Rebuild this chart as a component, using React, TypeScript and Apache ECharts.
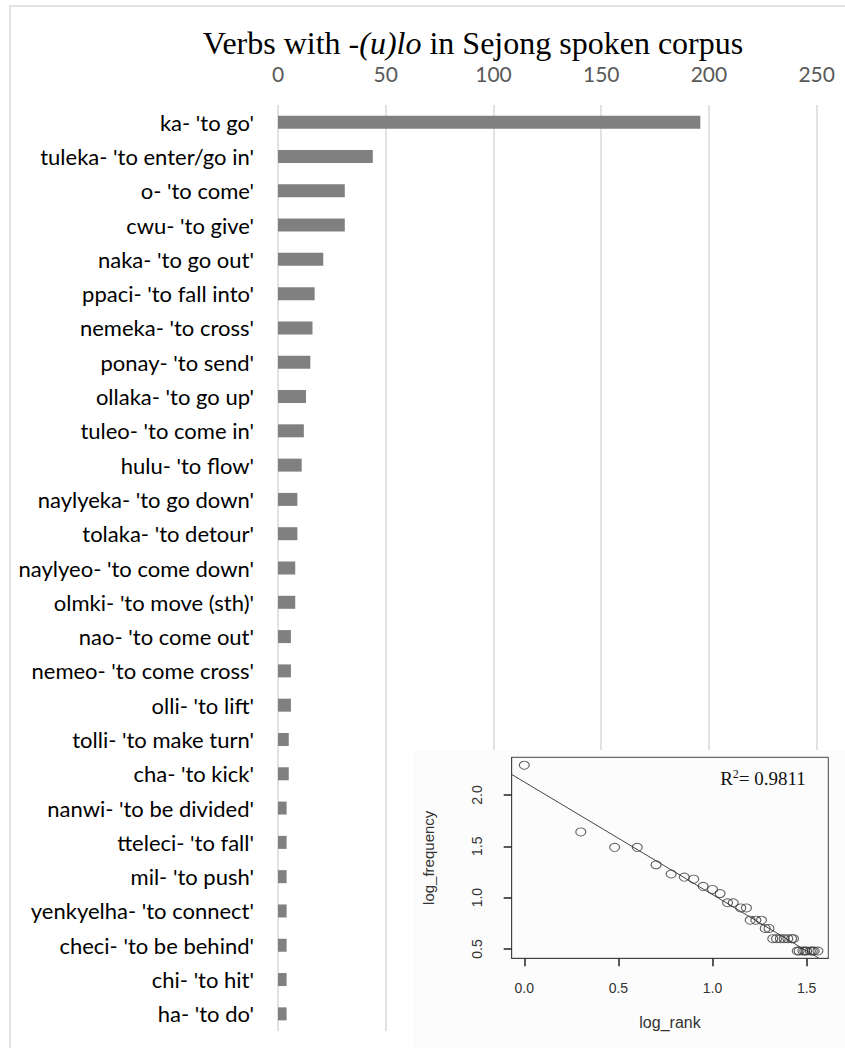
import React, { useEffect, useRef } from "react";
import * as echarts from "echarts";

const verbs = [
  "ka- 'to go'",
  "tuleka- 'to enter/go in'",
  "o- 'to come'",
  "cwu- 'to give'",
  "naka- 'to go out'",
  "ppaci- 'to fall into'",
  "nemeka- 'to cross'",
  "ponay- 'to send'",
  "ollaka- 'to go up'",
  "tuleo- 'to come in'",
  "hulu- 'to flow'",
  "naylyeka- 'to go down'",
  "tolaka- 'to detour'",
  "naylyeo- 'to come down'",
  "olmki- 'to move (sth)'",
  "nao- 'to come out'",
  "nemeo- 'to come cross'",
  "olli- 'to lift'",
  "tolli- 'to make turn'",
  "cha- 'to kick'",
  "nanwi- 'to be divided'",
  "tteleci- 'to fall'",
  "mil- 'to push'",
  "yenkyelha- 'to connect'",
  "checi- 'to be behind'",
  "chi- 'to hit'",
  "ha- 'to do'",
];
const counts = [196, 44, 31, 31, 21, 17, 16, 15, 13, 12, 11, 9, 9, 8, 8, 6, 6, 6, 5, 5, 4, 4, 4, 4, 4, 4, 4];
const xTicks = [0, 50, 100, 150, 200, 250];

const logRank = [
  0, 0.3, 0.48, 0.6, 0.7, 0.78, 0.85, 0.9, 0.95, 1.0, 1.04, 1.08, 1.11, 1.15, 1.18, 1.2, 1.23, 1.26,
  1.28, 1.3, 1.32, 1.34, 1.36, 1.38, 1.4, 1.42, 1.43, 1.45, 1.46, 1.48, 1.49, 1.5, 1.52, 1.53, 1.54, 1.56,
];
const logFreq = [
  2.29, 1.64, 1.49, 1.49, 1.32, 1.23, 1.2, 1.18, 1.11, 1.08, 1.04, 0.95, 0.95, 0.9, 0.9, 0.78, 0.78, 0.78,
  0.7, 0.7, 0.6, 0.6, 0.6, 0.6, 0.6, 0.6, 0.6, 0.48, 0.48, 0.48, 0.48, 0.48, 0.48, 0.48, 0.48, 0.48,
];
const fitLine = [
  [-0.067, 2.2],
  [1.615, 0.355],
];
const insetXRange = [-0.067, 1.615];
const insetYRange = [0.409, 2.367];
const insetTicksX = [0, 0.5, 1.0, 1.5];
const insetTicksY = [0.5, 1.0, 1.5, 2.0];
const rSquared = "0.9811";

export default function App() {
  const ref = useRef<HTMLDivElement>(null);
  useEffect(() => {
    if (!ref.current) return;
    const chart = echarts.init(ref.current, null, { renderer: "svg" });
    const labelFont = "Lato";
    const option: any = {
      animation: false,
      backgroundColor: "#ffffff",
      graphic: [
        {
          type: "rect",
          z: 0,
          shape: { x: 10, y: 6, width: 900, height: 1100 },
          style: { fill: "none", stroke: "#d9d9d9", lineWidth: 1.5 },
        },
        {
          type: "text",
          z: 0,
          x: 473,
          y: 43,
          style: {
            text: "{n|Verbs with -}{i|(u)lo}{n| in Sejong spoken corpus}",
            align: "center",
            verticalAlign: "middle",
            rich: {
              n: { fontFamily: "Liberation Serif", fontSize: 32, fill: "#000" },
              i: { fontFamily: "Liberation Serif", fontSize: 32, fontStyle: "italic", fill: "#000" },
            },
          },
        },
        {
          type: "rect",
          z: 1,
          shape: { x: 413, y: 750, width: 440, height: 300 },
          style: { fill: "#fcfcfc", stroke: "none" },
        },
        {
          type: "text",
          z: 6,
          x: 763,
          y: 778,
          style: {
            text: "{n|R}{s|2}{n|= " + rSquared + "}",
            align: "center",
            verticalAlign: "middle",
            rich: {
              n: { fontFamily: "Liberation Serif", fontSize: 19, fill: "#111" },
              s: { fontFamily: "Liberation Serif", fontSize: 12, fill: "#111", padding: [0, 0, 8, 0] },
            },
          },
        },
      ],
      grid: [
        { left: 278, right: 28.3, top: 105, bottom: 17, containLabel: false, z: 0 },
        {
          left: 511.7,
          width: 316.6,
          top: 757.3,
          height: 201,
          show: true,
          z: 3,
          borderColor: "#444",
          borderWidth: 1,
          backgroundColor: "transparent",
        },
      ],
      xAxis: [
        {
          type: "value",
          gridIndex: 0,
          z: 0,
          position: "top",
          min: 0,
          max: 250,
          interval: 50,
          axisLine: { show: false },
          axisTick: { show: false },
          axisLabel: { color: "#595959", fontFamily: labelFont, fontSize: 21, margin: 21 },
          splitLine: { show: true, lineStyle: { color: "#d9d9d9", width: 1.5 } },
          data: xTicks,
        },
        {
          type: "value",
          gridIndex: 1,
          z: 4,
          min: insetXRange[0],
          max: insetXRange[1],
          axisLine: { show: true, onZero: false, lineStyle: { color: "#444", width: 1 } },
          axisTick: { show: true, length: 8, customValues: insetTicksX, lineStyle: { color: "#222", width: 1.5 } },
          axisLabel: {
            customValues: insetTicksX,
            formatter: (v: number) => v.toFixed(1),
            fontFamily: "Liberation Sans",
            fontSize: 14,
            color: "#333",
            margin: 23,
          },
          splitLine: { show: false },
          name: "log_rank",
          nameLocation: "middle",
          nameGap: 56,
          nameTextStyle: { fontFamily: "Liberation Sans", fontSize: 16, color: "#333" },
        },
      ],
      yAxis: [
        {
          type: "category",
          gridIndex: 0,
          z: 0,
          inverse: true,
          data: verbs,
          axisLine: { show: false },
          axisTick: { show: false },
          axisLabel: { color: "#000", fontFamily: labelFont, fontSize: 22, margin: 24 },
        },
        {
          type: "value",
          gridIndex: 1,
          z: 4,
          min: insetYRange[0],
          max: insetYRange[1],
          axisLine: { show: true, onZero: false, lineStyle: { color: "#444", width: 1 } },
          axisTick: { show: true, length: 8, customValues: insetTicksY, lineStyle: { color: "#222", width: 1.5 } },
          axisLabel: {
            customValues: insetTicksY,
            formatter: (v: number) => v.toFixed(1),
            rotate: 90,
            fontFamily: "Liberation Sans",
            fontSize: 14,
            color: "#333",
            margin: 28,
          },
          splitLine: { show: false },
          name: "log_frequency",
          nameLocation: "middle",
          nameRotate: 90,
          nameGap: 76,
          nameTextStyle: { fontFamily: "Liberation Sans", fontSize: 15, color: "#333" },
        },
      ],
      series: [
        {
          type: "bar",
          xAxisIndex: 0,
          yAxisIndex: 0,
          z: 2,
          data: counts,
          barWidth: 13,
          itemStyle: { color: "#808080" },
        },
        {
          type: "scatter",
          xAxisIndex: 1,
          yAxisIndex: 1,
          z: 5,
          data: logRank.map((x, i) => [x, logFreq[i]]),
          symbol: "circle",
          symbolSize: [10, 8],
          itemStyle: { color: "transparent", borderColor: "#333", borderWidth: 1 },
        },
        {
          type: "line",
          xAxisIndex: 1,
          yAxisIndex: 1,
          z: 5,
          clip: true,
          data: fitLine,
          showSymbol: false,
          symbol: "none",
          lineStyle: { color: "#444", width: 1 },
        },
      ],
    };
    chart.setOption(option);
    return () => chart.dispose();
  }, []);
  return (
    <div
      ref={ref}
      style={{ position: "absolute", left: 0, top: 0, width: 845, height: 1048 }}
    />
  );
}
